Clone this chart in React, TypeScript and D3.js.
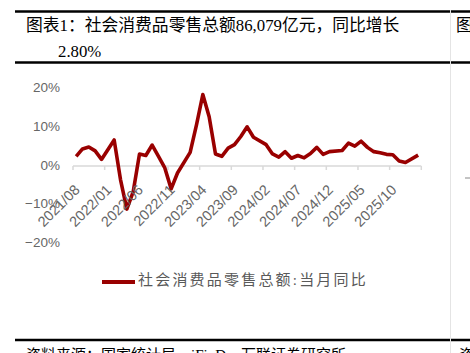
import * as d3 from 'd3';

// monthly categories 2021/08 - 2026/02 (January folded into Jan-Feb, so left empty)
const categories: string[] = [
  '2021/08', '2021/09', '2021/10', '2021/11', '2021/12',
  '2022/01', '2022/02', '2022/03', '2022/04', '2022/05', '2022/06', '2022/07', '2022/08', '2022/09', '2022/10', '2022/11', '2022/12',
  '2023/01', '2023/02', '2023/03', '2023/04', '2023/05', '2023/06', '2023/07', '2023/08', '2023/09', '2023/10', '2023/11', '2023/12',
  '2024/01', '2024/02', '2024/03', '2024/04', '2024/05', '2024/06', '2024/07', '2024/08', '2024/09', '2024/10', '2024/11', '2024/12',
  '2025/01', '2025/02', '2025/03', '2025/04', '2025/05', '2025/06', '2025/07', '2025/08', '2025/09', '2025/10', '2025/11', '2025/12',
  '2026/01', '2026/02',
];

// 社会消费品零售总额:当月同比 (%)
const retailYoY: (number | null)[] = [
  2.5, 4.4, 4.9, 3.9, 1.7,
  null, 6.7, -3.5, -11.1, -6.7, 3.1, 2.7, 5.4, 2.5, -0.5, -5.9, -1.8,
  null, 3.5, 10.6, 18.4, 12.7, 3.1, 2.5, 4.6, 5.5, 7.6, 10.1, 7.4,
  null, 5.5, 3.1, 2.3, 3.7, 2.0, 2.7, 2.1, 3.2, 4.8, 3.0, 3.7,
  null, 4.0, 5.9, 5.1, 6.4, 4.8, 3.7, 3.4, 3.0, 2.9, 1.3, 0.9,
  null, 2.8,
];

const yTicks: number[] = [-20, -10, 0, 10, 20];
const labelEvery = 5;

const title1 = '图表1：社会消费品零售总额86,079亿元，同比增长';
const title2 = '2.80%';
const legendLabel = '社会消费品零售总额:当月同比';
const sourceText = '资料来源：国家统计局，iFinD，万联证券研究所';

const W = 470;
const H = 353;
const RED = '#990000';
const GRAY = '#666666';
const serif = '"Liberation Serif", "Noto Sans CJK SC", serif';
const sans = '"Liberation Sans", Arial, sans-serif';

export default function App() {
  const x = d3.scaleBand<number>()
    .domain(d3.range(categories.length))
    .range([73, 421.3])
    .paddingInner(0)
    .paddingOuter(0);
  const y = d3.scaleLinear().domain([-20, 20]).range([243.6, 88.4]);
  const cx = (i: number) => (x(i) ?? 0) + x.bandwidth() / 2;
  const axisY = y(0);

  const pts = retailYoY
    .map((v, i) => ({ i, v }))
    .filter(d => d.v !== null) as { i: number; v: number }[];
  const line = d3.line<{ i: number; v: number }>()
    .x(d => cx(d.i))
    .y(d => y(d.v))
    .curve(d3.curveLinear);

  const tickIdx = d3.range(0, categories.length + 1, labelEvery);
  const tickX = (k: number) => (k < categories.length ? (x(k) ?? 0) : x.range()[1]);

  return (
    <div style={{ position: 'absolute', left: 0, top: 0 }}>
      <svg width={W} height={H} style={{ display: 'block', background: '#fff' }}>
        {/* table rules */}
        <line x1={15} x2={W} y1={11.5} y2={11.5} stroke="#000" strokeWidth={2.5} />
        <line x1={15} x2={W} y1={62.5} y2={62.5} stroke="#000" strokeWidth={2.5} />
        <line x1={15} x2={W} y1={340} y2={340} stroke="#000" strokeWidth={2.5} />
        <line x1={450.5} x2={450.5} y1={10} y2={H} stroke="#e4e4e4" strokeWidth={1} />

        {/* title */}
        <text x={26} y={31} fontFamily={serif} fontSize={16.8} fill="#000">{title1}</text>
        <text x={58} y={57} fontFamily={serif} fontSize={16.8} fill="#000">{title2}</text>
        <text x={456} y={31} fontFamily={serif} fontSize={16.8} fill="#000">图</text>

        {/* y labels */}
        {yTicks.map(t => (
          <text key={t} x={60} y={y(t)} textAnchor="end" dominantBaseline="middle"
            fontFamily={sans} fontSize={13.5} fill={GRAY}>
            {`${t < 0 ? '\u2212' : ''}${Math.abs(t)}%`}
          </text>
        ))}

        {/* x axis */}
        <line x1={x.range()[0]} x2={x.range()[1]} y1={axisY} y2={axisY} stroke="#d9d9d9" strokeWidth={1.5} />
        {tickIdx.map(k => (
          <line key={k} x1={tickX(k)} x2={tickX(k)} y1={axisY} y2={axisY + 4} stroke="#d9d9d9" strokeWidth={1.5} />
        ))}

        {/* series */}
        <path d={line(pts) ?? ''} fill="none" stroke={RED} strokeWidth={3.6} strokeLinejoin="round" />

        {/* x labels, drawn above the line like the original */}
        {tickIdx.filter(k => k < categories.length).map(k => (
          <text key={k} transform={`translate(${tickX(k) + 5},${axisY + 22}) rotate(-45)`}
            textAnchor="end" dominantBaseline="middle" fontFamily={sans} fontSize={14.5} fill={GRAY}>
            {categories[k]}
          </text>
        ))}

        {/* legend */}
        <line x1={102} x2={135} y1={282} y2={282} stroke={RED} strokeWidth={4} />
        <text x={138} y={282} dominantBaseline="middle" fontFamily={serif} fontSize={15}
          letterSpacing={2.2} fill="#595959">{legendLabel}</text>

        {/* neighbouring column remnants */}
        <line x1={465} x2={470} y1={178} y2={178} stroke="#888" strokeWidth={1} />

        {/* source, cut by the page edge */}
        <text x={26} y={360} fontFamily={serif} fontSize={15} fill="#000">{sourceText}</text>
        <text x={459} y={360} fontFamily={serif} fontSize={15} fill="#000">资</text>
      </svg>
    </div>
  );
}
